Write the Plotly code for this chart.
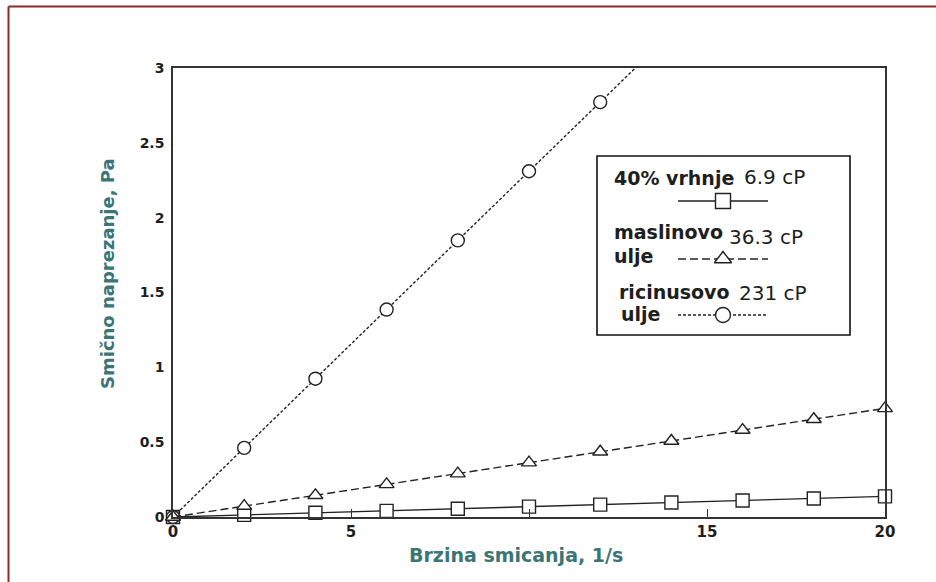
import plotly.graph_objects as go

# ---------------- data ----------------
shear_rate = [0, 2, 4, 6, 8, 10, 12, 14, 16, 18, 20]
cream_stress = [0, 0.014, 0.028, 0.041, 0.055, 0.069, 0.083, 0.097, 0.110, 0.124, 0.138]
olive_stress = [0, 0.073, 0.145, 0.218, 0.290, 0.363, 0.436, 0.508, 0.581, 0.653, 0.726]
castor_rate = [0, 2, 4, 6, 8, 10, 12, 14]
castor_stress = [0, 0.462, 0.924, 1.386, 1.848, 2.310, 2.772, 3.234]

x_tick_vals = [0, 5, 10, 15, 20]
x_tick_text = ["0", "5", "", "15", "20"]
y_tick_vals = [0, 0.5, 1, 1.5, 2, 2.5, 3]
y_tick_text = ["0", "0.5", "1", "1.5", "2", "2.5", "3"]

legend_names = ["40% vrhnje", "maslinovo", "ricinusovo"]
legend_second = ["", "ulje", "ulje"]
legend_visc = ["6.9 cP", "36.3 cP", "231 cP"]

x_title = "Brzina smicanja, 1/s"
y_title = "Smično naprezanje, Pa"

# ---------------- layout helpers ----------------
W, H = 936, 582
L, R, T, B = 173, 51, 68, 65
PW, PH = W - L - R, H - T - B
FONT = "DejaVu Sans"
INK = "#1e1e1e"
TEAL = "#3b7575"


def px(x):
    return (x - L) / PW


def py(y):
    return (H - B - y) / PH


fig = go.Figure()

line_col = "#222222"

fig.add_trace(go.Scatter(
    x=shear_rate, y=cream_stress, mode="lines+markers",
    line=dict(color=line_col, width=1.4, dash="solid"),
    marker=dict(symbol="square", size=13, color="white",
                line=dict(color=line_col, width=1.4)),
    cliponaxis=False, showlegend=False))

fig.add_trace(go.Scatter(
    x=castor_rate, y=castor_stress, mode="lines+markers",
    line=dict(color=line_col, width=1.4, dash="3px,2px"),
    marker=dict(symbol="circle", size=13, color="white",
                opacity=[1] * (len(castor_rate) - 1) + [0],
                line=dict(color=line_col, width=1.4)),
    cliponaxis=False, showlegend=False))

fig.add_trace(go.Scatter(
    x=shear_rate, y=olive_stress, mode="lines+markers",
    line=dict(color=line_col, width=1.4, dash="8px,4px"),
    marker=dict(symbol="triangle-up", size=13, color="white",
                line=dict(color=line_col, width=1.4)),
    cliponaxis=False, showlegend=False))

# ---------------- custom legend ----------------
leg_styles = [("solid", "square"), ("8px,4px", "triangle-up"), ("3px,2px", "circle")]
leg_line_y = [201, 259, 315]
for (dash, sym), ly in zip(leg_styles, leg_line_y):
    fig.add_trace(go.Scatter(
        x=[px(678), px(768)], y=[py(ly), py(ly)], mode="lines",
        line=dict(color=line_col, width=1.4, dash=dash),
        xaxis="x2", yaxis="y2", showlegend=False, hoverinfo="skip"))
    fig.add_trace(go.Scatter(
        x=[px(723)], y=[py(ly)], mode="markers",
        marker=dict(symbol=sym, size=15, color="white",
                    line=dict(color=line_col, width=1.4)),
        xaxis="x2", yaxis="y2", showlegend=False, hoverinfo="skip"))

shapes = [
    dict(type="rect", xref="paper", yref="paper", layer="below",
         x0=px(597), x1=px(850), y0=py(335), y1=py(156),
         fillcolor="white", line=dict(color="#111111", width=1.6)),
    # picture frame (left and top edges)
    dict(type="line", xref="paper", yref="paper",
         x0=px(8.5), x1=px(960), y0=py(6.5), y1=py(6.5),
         line=dict(color="#8a2b2b", width=2)),
    dict(type="line", xref="paper", yref="paper",
         x0=px(8.5), x1=px(8.5), y0=py(6.5), y1=py(600),
         line=dict(color="#8a2b2b", width=2)),
]

annotations = []
name_pos = [(612, 178), (612, 232), (617, 292)]
second_pos = [None, (612, 256), (619, 314)]
visc_pos = [(742, 177), (727, 237), (737, 293)]
for i in range(3):
    annotations.append(dict(
        text=legend_names[i], xref="paper", yref="paper",
        x=px(name_pos[i][0]), y=py(name_pos[i][1]),
        xanchor="left", yanchor="middle", showarrow=False,
        font=dict(family=FONT, size=19, color=INK, weight="bold")))
    if legend_second[i]:
        annotations.append(dict(
            text=legend_second[i], xref="paper", yref="paper",
            x=px(second_pos[i][0]), y=py(second_pos[i][1]),
            xanchor="left", yanchor="middle", showarrow=False,
            font=dict(family=FONT, size=19, color=INK, weight="bold")))
    annotations.append(dict(
        text=legend_visc[i], xref="paper", yref="paper",
        x=px(visc_pos[i][0]), y=py(visc_pos[i][1]),
        xanchor="left", yanchor="middle", showarrow=False,
        font=dict(family=FONT, size=20, color=INK)))

# axis titles
annotations.append(dict(
    text=x_title, xref="paper", yref="paper", x=px(625), y=py(555),
    xanchor="right", yanchor="middle", showarrow=False,
    font=dict(family=FONT, size=19, color=TEAL, weight="bold")))
annotations.append(dict(
    text=y_title, xref="paper", yref="paper", x=px(107), y=py(274),
    xanchor="center", yanchor="middle", textangle=-90, showarrow=False,
    font=dict(family=FONT, size=18, color=TEAL, weight="bold")))

axis_line = dict(showline=True, linecolor="#333333", linewidth=1.5,
                 mirror=True, showgrid=False, zeroline=False)

fig.update_layout(
    width=W, height=H,
    margin=dict(l=L, r=R, t=T, b=B),
    paper_bgcolor="white", plot_bgcolor="white",
    xaxis=dict(range=[0, 20], tickvals=x_tick_vals, ticktext=x_tick_text,
               ticks="inside", ticklen=8, tickwidth=1.3, tickcolor="#333333",
               tickfont=dict(family=FONT, size=15, color=INK, weight="bold"),
               **axis_line),
    yaxis=dict(range=[0, 3], tickvals=y_tick_vals, ticktext=y_tick_text,
               ticks="", ticklabelstandoff=4,
               tickfont=dict(family=FONT, size=14, color=INK, weight="bold"),
               **axis_line),
    xaxis2=dict(range=[0, 1], overlaying="x", anchor="y2", visible=False),
    yaxis2=dict(range=[0, 1], overlaying="y", anchor="x2", visible=False),
    shapes=shapes,
    annotations=annotations,
)

fig.write_html("out.html",
               config={"displayModeBar": False},
               post_script="document.body.style.margin='0';"
                           "document.body.style.overflow='hidden';")
